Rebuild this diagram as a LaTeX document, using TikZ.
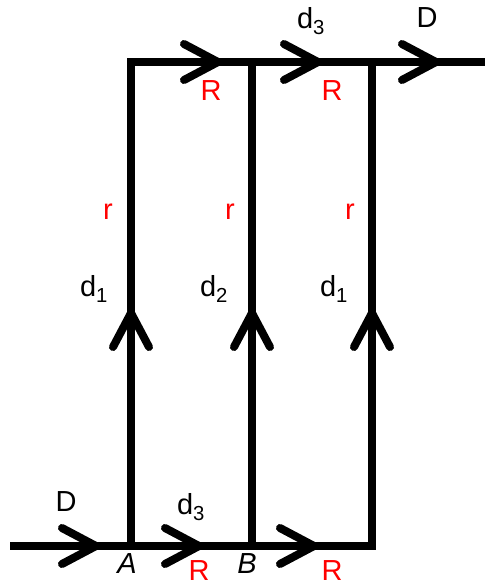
\documentclass[tikz,border=0pt]{standalone}
\usepackage{fontspec}
\setmainfont{Liberation Sans}
\usetikzlibrary{calc}
\definecolor{rred}{RGB}{255,0,0}
\tikzset{
 wire/.style={black,line width=8pt,line join=miter},
 chev/.style={black,line width=8pt,line cap=round,line join=miter},
 lbl/.style={inner sep=0pt,font=\fontsize{29}{31}\selectfont},
 rlbl/.style={lbl,text=rred}
}
\newcommand{\chevron}[3]{%
 \coordinate ({#1}) at ({#2});%
 \begin{scope}[shift={({#2})},rotate=#3]%
  \draw [chev] (-34,-18) -- (0,0) -- (-34,18);%
 \end{scope}%
}

\begin{document}
\begin{tikzpicture}[x=1pt,y=-1pt]
   \useasboundingbox (0,0) rectangle (485,587);
   \coordinate (in) at (10,546);
   \coordinate (A) at (131,546);
   \coordinate (B) at (252,546);
   \coordinate (C) at (372,546);
   \coordinate (tA) at (131,62);
   \coordinate (tB) at (252,62);
   \coordinate (tC) at (372,62);
   \coordinate (out) at (485,62);
   \draw[wire] (in) -- (C) -- (tC);
   \draw[wire] (A) -- (tA) -- (out);
   \draw[wire] (B) -- (tB);
   % arrows on the wires
   \chevron{a1}{96,546}{0}
   \chevron{a2}{199,546}{0}
   \chevron{a3}{314,546}{0}
   \chevron{a4}{218,62}{0}
   \chevron{a5}{318,62}{0}
   \chevron{a6}{436,62}{0}
   \chevron{v1}{131,313}{90}
   \chevron{v2}{252,313}{90}
   \chevron{v3}{372,313}{90}
   % labels
   \node[lbl] (Din) at (66,502) {D};
   \node[lbl] (d3b) at (191,507) {d\textsubscript{3}};
   \node[lbl,font=\fontsize{29}{31}\selectfont\itshape] (lA) at (127,564) {A};
   \node[lbl,font=\fontsize{29}{31}\selectfont\itshape] (lB) at (247,564) {B};
   \node[rlbl] (Rb1) at (199,571) {R};
   \node[rlbl] (Rb2) at (332,571) {R};
   \node[rlbl] (Rt1) at (211,91) {R};
   \node[rlbl] (Rt2) at (332,91) {R};
   \node[lbl] (d3t) at (311,21) {d\textsubscript{3}};
   \node[lbl] (Dout) at (427,18) {D};
   \node[rlbl] (r1) at (108,212) {r};
   \node[rlbl] (r2) at (230,212) {r};
   \node[rlbl] (r3) at (350,212) {r};
   \node[lbl] (d1a) at (94,289) {d\textsubscript{1}};
   \node[lbl] (d2) at (214,289) {d\textsubscript{2}};
   \node[lbl] (d1b) at (334,289) {d\textsubscript{1}};
\end{tikzpicture}
\end{document}
